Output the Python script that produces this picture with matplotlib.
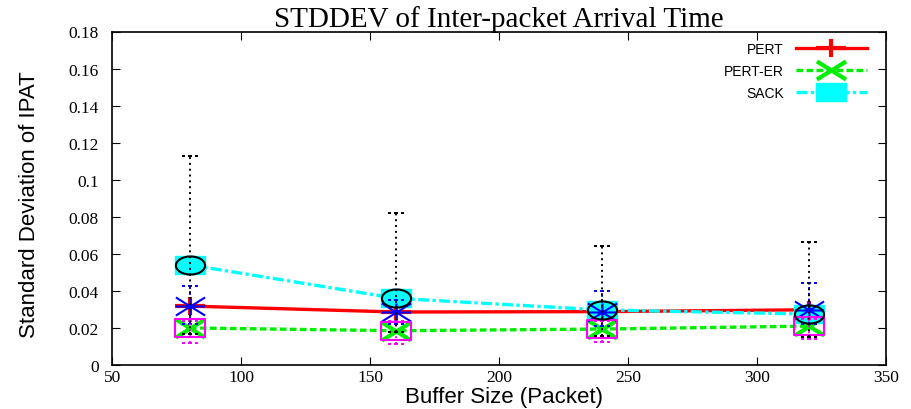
import matplotlib
matplotlib.use("Agg")
import numpy as np
import matplotlib.pyplot as plt
from matplotlib.path import Path
from matplotlib.ticker import FuncFormatter, MultipleLocator

# donnees
buffer_size = [80, 160, 240, 320]
pert = [0.0318, 0.0286, 0.0288, 0.0298]
pert_er = [0.0200, 0.0185, 0.0194, 0.0210]
sack = [0.0540, 0.0360, 0.0297, 0.0275]

# barres d'erreur (bas / haut)
pert_lo = [0.022, 0.022, 0.021, 0.022]
pert_hi = [0.0426, 0.0350, 0.0400, 0.0441]
pert_er_lo = [0.0119, 0.0113, 0.0126, 0.0140]
pert_er_hi = [0.0240, 0.0235, 0.0240, 0.0250]
sack_lo = [0.0170, 0.0180, 0.0157, 0.0150]
sack_hi = [0.1130, 0.0820, 0.0643, 0.0665]

serif = ["Liberation Serif", "DejaVu Serif"]
sans = ["Liberation Sans", "DejaVu Sans"]
plt.rcParams["font.family"] = serif

# marqueurs aplatis comme dans gnuplot
A = 0.62
M, L, C = Path.MOVETO, Path.LINETO, Path.CLOSEPOLY
plus_m = Path([(-1, 0), (1, 0), (0, -A), (0, A)], [M, L, M, L])
cross_m = Path([(-1, -A), (1, A), (-1, A), (1, -A)], [M, L, M, L])
star_m = Path([(-1, 0), (1, 0), (0, -A), (0, A), (-1, -A), (1, A), (-1, A), (1, -A)],
              [M, L, M, L, M, L, M, L])
rect_m = Path([(-1, -A), (1, -A), (1, A), (-1, A), (-1, -A)], [M, L, L, L, C])
circ = Path.unit_circle()
ellipse_m = Path(circ.vertices * [1, A], circ.codes)
cap_m = Path([(-1, 0), (-0.65, 0), (-0.2, 0), (0.2, 0), (0.65, 0), (1, 0)],
             [M, L, M, L, M, L])

fig, ax = plt.subplots(figsize=(9.12, 4.10), dpi=100)
fig.subplots_adjust(left=112.5/912, right=886/912, bottom=44/410, top=377.5/410)

ms = 21
ax.plot(buffer_size, pert, color="red", lw=2.4, marker=plus_m, ms=ms, mew=3,
        label="PERT", zorder=3)
ax.plot(buffer_size, pert_er, color="#00ee00", lw=2.4, ls=(0, (2, 1)), marker=cross_m,
        ms=ms, mew=3, label="PERT-ER", zorder=3)
ax.plot(buffer_size, sack, color="cyan", lw=2.4, ls=(0, (3.3, 1, 1, 1)), marker=rect_m,
        ms=ms, mec="cyan", mfc="cyan", mew=1, label="SACK", zorder=3)


def barres(mid, lo, hi, col, mk, z):
    mid = np.array(mid)
    err = [mid - np.array(lo), np.array(hi) - mid]
    eb = ax.errorbar(buffer_size, mid, yerr=err, fmt="none", ecolor=col, elinewidth=1.4,
                     capsize=6, capthick=1.4, zorder=z)
    eb[2][0].set_linestyle((0, (1, 2)))
    for cl in eb[1]:
        cl.set_marker(cap_m)
        cl.set_markersize(12)
    ax.plot(buffer_size, mid, ls="none", marker=mk, ms=ms, mec=col, mfc="none",
            mew=1.5, zorder=z)


barres(pert, pert_lo, pert_hi, "blue", star_m, 4)
barres(pert_er, pert_er_lo, pert_er_hi, "magenta", rect_m, 4)
barres(sack, sack_lo, sack_hi, "black", ellipse_m, 5)

ax.set_xlim(50, 350)
ax.set_ylim(0, 0.18)
ax.xaxis.set_major_locator(MultipleLocator(50))
ax.yaxis.set_major_locator(MultipleLocator(0.02))
ax.yaxis.set_major_formatter(FuncFormatter(lambda v, p: "%g" % round(v, 4)))
ax.tick_params(direction="in", length=6, width=0.8, top=True, right=True, labelsize=12.5)
ax.tick_params(axis="y", pad=10)
ax.tick_params(axis="x", pad=3)
for sp in ax.spines.values():
    sp.set_linewidth(1.2)

ax.set_title("STDDEV of Inter-packet Arrival Time", family=serif, fontsize=21, pad=4)
ax.set_xlabel("Buffer Size (Packet)", family=sans, fontsize=16, va="baseline")
ax.xaxis.set_label_coords(0.5055, -0.112)
ax.set_ylabel("Standard Deviation of IPAT", family=sans, fontsize=16)
ax.yaxis.set_label_coords(-0.094, 0.484)

ax.legend(loc="upper right", bbox_to_anchor=(0.975, 0.97), frameon=False,
          markerfirst=False, handlelength=5.1, handletextpad=0.86, labelspacing=0.6,
          borderpad=0, borderaxespad=0, prop={"family": sans, "size": 10})

fig.savefig("out.png", dpi=100)
